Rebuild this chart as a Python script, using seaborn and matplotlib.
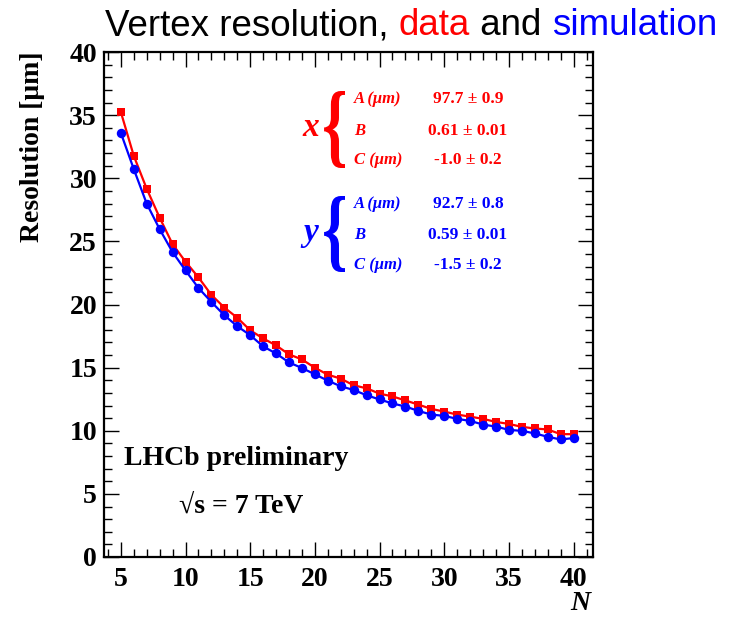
import matplotlib
matplotlib.use("Agg")
import numpy as np
import pandas as pd
import seaborn as sns
import matplotlib.pyplot as plt
from matplotlib.ticker import MultipleLocator
from matplotlib.textpath import TextPath
from matplotlib.font_manager import FontProperties
from matplotlib.patches import PathPatch
from matplotlib.path import Path

# ---------------- data ----------------
n_tracks = list(range(5, 41))
res_x_data = [35.25, 31.78, 29.17, 26.88, 24.78, 23.39, 22.15, 20.76, 19.76, 18.95,
              17.96, 17.31, 16.76, 16.05, 15.65, 14.99, 14.44, 14.13, 13.60, 13.36,
              12.94, 12.72, 12.40, 12.07, 11.73, 11.52, 11.28, 11.12, 10.94, 10.70,
              10.54, 10.31, 10.18, 10.10, 9.73, 9.73]
res_y_sim = [33.60, 30.73, 27.99, 25.97, 24.15, 22.70, 21.31, 20.20, 19.15, 18.28,
             17.57, 16.68, 16.12, 15.41, 14.97, 14.47, 13.97, 13.52, 13.23, 12.81,
             12.48, 12.16, 11.92, 11.57, 11.28, 11.18, 10.94, 10.78, 10.49, 10.33,
             10.07, 9.99, 9.79, 9.52, 9.31, 9.42]

param_names = ["A (\u03bcm)", "B", "C (\u03bcm)"]
x_params = ["97.7 \u00b1 0.9", "0.61 \u00b1 0.01", "-1.0 \u00b1 0.2"]
y_params = ["92.7 \u00b1 0.8", "0.59 \u00b1 0.01", "-1.5 \u00b1 0.2"]

title_parts = [("Vertex resolution, ", "black"), ("data", "red"),
               (" and ", "black"), ("simulation", "blue")]

RED = "#ff0000"
BLUE = "#0000ff"

W, H = 733, 617
sns.set_theme(style="ticks")
plt.rcParams["font.family"] = ["Liberation Serif", "DejaVu Serif"]
plt.rcParams["text.color"] = "black"
plt.rcParams["xtick.color"] = "black"
plt.rcParams["ytick.color"] = "black"
plt.rcParams["xtick.labelcolor"] = "black"
plt.rcParams["ytick.labelcolor"] = "black"

fig = plt.figure(figsize=(W / 100, H / 100), dpi=100)
fig.patch.set_facecolor("white")


def fx(px):
    return px / W


def fy(py):
    return 1 - py / H


ax = fig.add_axes([fx(104), fy(557), fx(593) - fx(104), fy(52) - fy(557)])
ax.set_facecolor("white")

df = pd.DataFrame({"N": n_tracks, "x": res_x_data, "y": res_y_sim})

sns.lineplot(data=df, x="N", y="x", ax=ax, color=RED, lw=1.6,
             marker="s", markersize=6, markeredgewidth=0, markerfacecolor=RED)
sns.lineplot(data=df, x="N", y="y", ax=ax, color=BLUE, lw=1.6,
             marker="o", markersize=6.8, markeredgewidth=0, markerfacecolor=BLUE)

ax.set_xlim(3.7, 41.5)
ax.set_ylim(0, 40)
ax.xaxis.set_major_locator(MultipleLocator(5))
ax.xaxis.set_minor_locator(MultipleLocator(1))
ax.yaxis.set_major_locator(MultipleLocator(5))
ax.yaxis.set_minor_locator(MultipleLocator(1))
ax.tick_params(which="both", direction="in", top=True, right=True,
               color="black", labelcolor="black", width=1.0)
ax.tick_params(which="major", length=11)
ax.tick_params(which="minor", length=5.5)
ax.tick_params(axis="y", which="major", pad=5)
ax.tick_params(axis="x", which="major", pad=7)
for lab in ax.get_xticklabels() + ax.get_yticklabels():
    lab.set_fontsize(20)
    lab.set_fontweight("bold")
    lab.set_color("black")
for sp in ax.spines.values():
    sp.set_linewidth(1.6)
    sp.set_color("black")

ax.set_xlabel("")
ax.set_ylabel("")
fig.text(fx(33), fy(52), "Resolution [\u03bcm]", rotation=90, ha="center", va="top",
         fontsize=20, fontweight="bold", color="black")
fig.text(fx(580), fy(603), "N", ha="center", va="center", fontsize=20,
         fontweight="bold", style="italic", color="black")

# annotations
fig.text(fx(124), fy(465), "LHCb preliminary", ha="left", va="baseline",
         fontsize=20, fontweight="bold", color="black")
fig.text(fx(179), fy(513), "\u221as = 7 TeV", ha="left", va="baseline",
         fontsize=20, fontweight="bold", color="black")

# title
renderer = fig.canvas.get_renderer()
xcur = fx(105)
for txt, col in title_parts:
    t = fig.text(xcur, fy(35), txt, color=col, fontsize=26.5,
                 family=["Liberation Sans", "DejaVu Sans"], ha="left", va="baseline")
    bb = t.get_window_extent(renderer)
    xcur += bb.width / fig.bbox.width


# braces
def brace(x0, x1, y0, y1, color):
    tp = TextPath((0, 0), "{", size=1,
                  prop=FontProperties(family="Liberation Serif", weight="bold"))
    verts = tp.vertices.copy()
    vx0, vy0 = verts.min(axis=0)
    vx1, vy1 = verts.max(axis=0)
    nx = (verts[:, 0] - vx0) / (vx1 - vx0)
    ny = (verts[:, 1] - vy0) / (vy1 - vy0)
    X = fx(x0) + nx * (fx(x1) - fx(x0))
    Y = fy(y1) + ny * (fy(y0) - fy(y1))
    path = Path(np.column_stack([X, Y]), tp.codes)
    fig.patches.append(PathPatch(path, transform=fig.transFigure, facecolor=color,
                                 edgecolor="none", figure=fig))


def block(sym, ytop, ybot, rows_y, vals, color):
    fig.text(fx(311), fy((ytop + ybot) / 2 - 2), sym, ha="center", va="center",
             fontsize=24, fontweight="bold", style="italic", color=color)
    brace(322, 345, ytop, ybot, color)
    for name, val, ry in zip(param_names, vals, rows_y):
        fig.text(fx(354), fy(ry), name, ha="left", va="center", fontsize=12,
                 fontweight="bold", style="italic", color=color)
        fig.text(fx(468), fy(ry), val, ha="center", va="center", fontsize=12.5,
                 fontweight="bold", color=color)


block("x", 91, 168, [99, 131, 160], x_params, RED)
block("y", 196, 272, [204, 235, 265], y_params, BLUE)

fig.savefig("out.png", dpi=100, facecolor="white")
